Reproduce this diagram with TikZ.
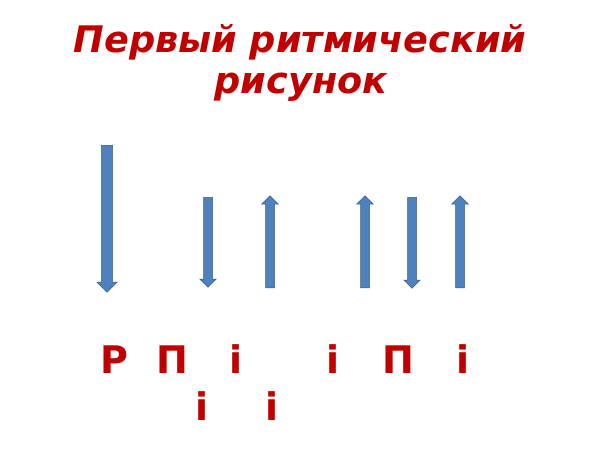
\documentclass[tikz,border=0pt]{standalone}
\usepackage{fontspec}
\setmainfont{DejaVu Sans}
\usetikzlibrary{shapes.arrows}
\definecolor{titlered}{RGB}{192,0,0}
\definecolor{arrowblue}{RGB}{79,129,189}
\definecolor{arrowline}{RGB}{56,93,138}
\tikzset{
  strum/.style={single arrow, draw=arrowline, fill=arrowblue, line width=0.5pt,
    inner xsep=0pt, inner ysep=4.25pt, text height=0pt, text depth=0pt, anchor=tail,
    single arrow head extend=3.75pt, single arrow tip angle=90},
  heading/.style={text=titlered, font=\fontsize{36.6}{41}\selectfont\bfseries\itshape, anchor=base, inner sep=0pt},
  finger/.style={text=titlered, font=\fontsize{38}{38}\selectfont\bfseries, anchor=base, inner sep=0pt}
}
\begin{document}
\begin{tikzpicture}[x=1pt, y=-1pt]
\useasboundingbox (0,0) rectangle (600,450);
\node[heading] (title1) at (300,52) {Первый ритмический};
\node[heading] (title2) at (301,93) {рисунок};
% strokes
\node[strum, rotate=-90, minimum height=147pt, inner ysep=5.3pt, single arrow head extend=4.7pt] (arr1) at (107,145){};
\node[strum, rotate=-90, minimum height=90pt] (arr2) at (208,197){};
\node[strum, rotate=90, minimum height=92pt] (arr3) at (270,288){};
\node[strum, rotate=90, minimum height=92pt] (arr4) at (365,288){};
\node[strum, rotate=-90, minimum height=91pt] (arr5) at (412,197){};
\node[strum, rotate=90, minimum height=92pt] (arr6) at (460,288){};
% fingers
\node[finger] (f1) at (114,373){Р};
\node[finger] (f2) at (172,373){П};
\node[finger] (f3) at (236,373){i};
\node[finger] (f4) at (333,373){i};
\node[finger] (f5) at (398,373){П};
\node[finger] (f6) at (463,373){i};
\node[finger] (f7) at (202,420){i};
\node[finger] (f8) at (272,420){i};
\end{tikzpicture}
\end{document}
